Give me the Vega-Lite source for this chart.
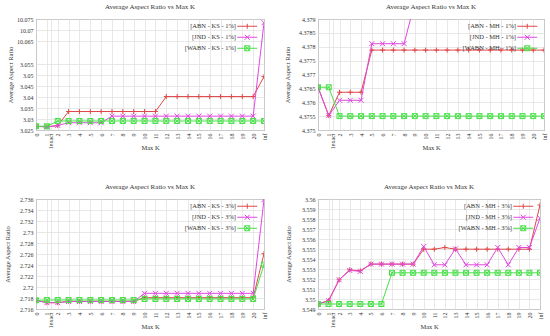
{
 "$schema": "https://vega.github.io/schema/vega-lite/v6.json",
 "padding": {"left": 3, "top": 2, "right": 0, "bottom": 0},
 "datasets": {
  "tl": [
   {"k":0,"s":"ABN","v":3.0267},{"k":1,"s":"ABN","v":3.0265},{"k":2,"s":"ABN","v":3.027},{"k":3,"s":"ABN","v":3.0334},{"k":4,"s":"ABN","v":3.0334},{"k":5,"s":"ABN","v":3.0334},{"k":6,"s":"ABN","v":3.0334},{"k":7,"s":"ABN","v":3.0334},{"k":8,"s":"ABN","v":3.0334},{"k":9,"s":"ABN","v":3.0334},{"k":10,"s":"ABN","v":3.0334},{"k":11,"s":"ABN","v":3.0334},{"k":12,"s":"ABN","v":3.0402},{"k":13,"s":"ABN","v":3.0402},{"k":14,"s":"ABN","v":3.0402},{"k":15,"s":"ABN","v":3.0402},{"k":16,"s":"ABN","v":3.0402},{"k":17,"s":"ABN","v":3.0402},{"k":18,"s":"ABN","v":3.0402},{"k":19,"s":"ABN","v":3.0402},{"k":20,"s":"ABN","v":3.0402},{"k":21,"s":"ABN","v":3.0493},
   {"k":0,"s":"JND","v":3.0267},{"k":1,"s":"JND","v":3.0263},{"k":2,"s":"JND","v":3.0271},{"k":3,"s":"JND","v":3.0283},{"k":4,"s":"JND","v":3.0283},{"k":5,"s":"JND","v":3.0283},{"k":6,"s":"JND","v":3.0283},{"k":7,"s":"JND","v":3.0313},{"k":8,"s":"JND","v":3.0313},{"k":9,"s":"JND","v":3.0313},{"k":10,"s":"JND","v":3.0313},{"k":11,"s":"JND","v":3.0313},{"k":12,"s":"JND","v":3.0313},{"k":13,"s":"JND","v":3.0313},{"k":14,"s":"JND","v":3.0313},{"k":15,"s":"JND","v":3.0313},{"k":16,"s":"JND","v":3.0313},{"k":17,"s":"JND","v":3.0313},{"k":18,"s":"JND","v":3.0313},{"k":19,"s":"JND","v":3.0313},{"k":20,"s":"JND","v":3.0313},{"k":21,"s":"JND","v":10.0733},
   {"k":0,"s":"WABN","v":3.0267},{"k":1,"s":"WABN","v":3.0267},{"k":2,"s":"WABN","v":3.0291},{"k":3,"s":"WABN","v":3.0291},{"k":4,"s":"WABN","v":3.0291},{"k":5,"s":"WABN","v":3.0291},{"k":6,"s":"WABN","v":3.0291},{"k":7,"s":"WABN","v":3.0291},{"k":8,"s":"WABN","v":3.0291},{"k":9,"s":"WABN","v":3.0291},{"k":10,"s":"WABN","v":3.0291},{"k":11,"s":"WABN","v":3.0291},{"k":12,"s":"WABN","v":3.0291},{"k":13,"s":"WABN","v":3.0291},{"k":14,"s":"WABN","v":3.0291},{"k":15,"s":"WABN","v":3.0291},{"k":16,"s":"WABN","v":3.0291},{"k":17,"s":"WABN","v":3.0291},{"k":18,"s":"WABN","v":3.0291},{"k":19,"s":"WABN","v":3.0291},{"k":20,"s":"WABN","v":3.0291},{"k":21,"s":"WABN","v":3.0291}
  ],
  "tr": [
   {"k":0,"s":"ABN","v":4.37654},{"k":1,"s":"ABN","v":4.37552},{"k":2,"s":"ABN","v":4.37636},{"k":3,"s":"ABN","v":4.37636},{"k":4,"s":"ABN","v":4.37636},{"k":5,"s":"ABN","v":4.37788},{"k":6,"s":"ABN","v":4.37788},{"k":7,"s":"ABN","v":4.37788},{"k":8,"s":"ABN","v":4.37788},{"k":9,"s":"ABN","v":4.37788},{"k":10,"s":"ABN","v":4.37788},{"k":11,"s":"ABN","v":4.37788},{"k":12,"s":"ABN","v":4.37788},{"k":13,"s":"ABN","v":4.37788},{"k":14,"s":"ABN","v":4.37788},{"k":15,"s":"ABN","v":4.37788},{"k":16,"s":"ABN","v":4.37788},{"k":17,"s":"ABN","v":4.37788},{"k":18,"s":"ABN","v":4.37788},{"k":19,"s":"ABN","v":4.37788},{"k":20,"s":"ABN","v":4.37788},{"k":21,"s":"ABN","v":4.37788},
   {"k":0,"s":"JND","v":4.37654},{"k":1,"s":"JND","v":4.37552},{"k":2,"s":"JND","v":4.37607},{"k":3,"s":"JND","v":4.37607},{"k":4,"s":"JND","v":4.37607},{"k":5,"s":"JND","v":4.37811},{"k":6,"s":"JND","v":4.37811},{"k":7,"s":"JND","v":4.37811},{"k":8,"s":"JND","v":4.37811},{"k":9,"s":"JND","v":4.3796},{"k":10,"s":"JND","v":4.3796},{"k":11,"s":"JND","v":4.3796},{"k":12,"s":"JND","v":4.3796},{"k":13,"s":"JND","v":4.3796},{"k":14,"s":"JND","v":4.3796},{"k":15,"s":"JND","v":4.3796},{"k":16,"s":"JND","v":4.3796},{"k":17,"s":"JND","v":4.3796},{"k":18,"s":"JND","v":4.3796},{"k":19,"s":"JND","v":4.3796},{"k":20,"s":"JND","v":4.3796},{"k":21,"s":"JND","v":4.3796},
   {"k":0,"s":"WABN","v":4.37654},{"k":1,"s":"WABN","v":4.37654},{"k":2,"s":"WABN","v":4.3755},{"k":3,"s":"WABN","v":4.3755},{"k":4,"s":"WABN","v":4.3755},{"k":5,"s":"WABN","v":4.3755},{"k":6,"s":"WABN","v":4.3755},{"k":7,"s":"WABN","v":4.3755},{"k":8,"s":"WABN","v":4.3755},{"k":9,"s":"WABN","v":4.3755},{"k":10,"s":"WABN","v":4.3755},{"k":11,"s":"WABN","v":4.3755},{"k":12,"s":"WABN","v":4.3755},{"k":13,"s":"WABN","v":4.3755},{"k":14,"s":"WABN","v":4.3755},{"k":15,"s":"WABN","v":4.3755},{"k":16,"s":"WABN","v":4.3755},{"k":17,"s":"WABN","v":4.3755},{"k":18,"s":"WABN","v":4.3755},{"k":19,"s":"WABN","v":4.3755},{"k":20,"s":"WABN","v":4.3755},{"k":21,"s":"WABN","v":4.3755}
  ],
  "bl": [
   {"k":0,"s":"ABN","v":2.71758},{"k":1,"s":"ABN","v":2.71715},{"k":2,"s":"ABN","v":2.71715},{"k":3,"s":"ABN","v":2.71739},{"k":4,"s":"ABN","v":2.71739},{"k":5,"s":"ABN","v":2.71739},{"k":6,"s":"ABN","v":2.71739},{"k":7,"s":"ABN","v":2.71739},{"k":8,"s":"ABN","v":2.71739},{"k":9,"s":"ABN","v":2.71739},{"k":10,"s":"ABN","v":2.71806},{"k":11,"s":"ABN","v":2.71806},{"k":12,"s":"ABN","v":2.71806},{"k":13,"s":"ABN","v":2.71806},{"k":14,"s":"ABN","v":2.71806},{"k":15,"s":"ABN","v":2.71806},{"k":16,"s":"ABN","v":2.71806},{"k":17,"s":"ABN","v":2.71806},{"k":18,"s":"ABN","v":2.71806},{"k":19,"s":"ABN","v":2.71806},{"k":20,"s":"ABN","v":2.71806},{"k":21,"s":"ABN","v":2.72606},
   {"k":0,"s":"JND","v":2.71758},{"k":1,"s":"JND","v":2.71715},{"k":2,"s":"JND","v":2.71715},{"k":3,"s":"JND","v":2.71736},{"k":4,"s":"JND","v":2.71736},{"k":5,"s":"JND","v":2.71736},{"k":6,"s":"JND","v":2.71736},{"k":7,"s":"JND","v":2.71736},{"k":8,"s":"JND","v":2.71736},{"k":9,"s":"JND","v":2.71736},{"k":10,"s":"JND","v":2.71885},{"k":11,"s":"JND","v":2.71885},{"k":12,"s":"JND","v":2.71885},{"k":13,"s":"JND","v":2.71885},{"k":14,"s":"JND","v":2.71885},{"k":15,"s":"JND","v":2.71885},{"k":16,"s":"JND","v":2.71885},{"k":17,"s":"JND","v":2.71885},{"k":18,"s":"JND","v":2.71885},{"k":19,"s":"JND","v":2.71885},{"k":20,"s":"JND","v":2.71885},{"k":21,"s":"JND","v":2.73588},
   {"k":0,"s":"WABN","v":2.71758},{"k":1,"s":"WABN","v":2.71764},{"k":2,"s":"WABN","v":2.71764},{"k":3,"s":"WABN","v":2.71764},{"k":4,"s":"WABN","v":2.71764},{"k":5,"s":"WABN","v":2.71764},{"k":6,"s":"WABN","v":2.71764},{"k":7,"s":"WABN","v":2.71764},{"k":8,"s":"WABN","v":2.71764},{"k":9,"s":"WABN","v":2.71764},{"k":10,"s":"WABN","v":2.71782},{"k":11,"s":"WABN","v":2.71782},{"k":12,"s":"WABN","v":2.71782},{"k":13,"s":"WABN","v":2.71782},{"k":14,"s":"WABN","v":2.71782},{"k":15,"s":"WABN","v":2.71782},{"k":16,"s":"WABN","v":2.71782},{"k":17,"s":"WABN","v":2.71782},{"k":18,"s":"WABN","v":2.71782},{"k":19,"s":"WABN","v":2.71782},{"k":20,"s":"WABN","v":2.71782},{"k":21,"s":"WABN","v":2.72406}
  ],
  "br": [
   {"k":0,"s":"ABN","v":3.5495},{"k":1,"s":"ABN","v":3.54983},{"k":2,"s":"ABN","v":3.55192},{"k":3,"s":"ABN","v":3.55292},{"k":4,"s":"ABN","v":3.55282},{"k":5,"s":"ABN","v":3.55349},{"k":6,"s":"ABN","v":3.55349},{"k":7,"s":"ABN","v":3.55349},{"k":8,"s":"ABN","v":3.55349},{"k":9,"s":"ABN","v":3.55349},{"k":10,"s":"ABN","v":3.55498},{"k":11,"s":"ABN","v":3.55498},{"k":12,"s":"ABN","v":3.55515},{"k":13,"s":"ABN","v":3.55498},{"k":14,"s":"ABN","v":3.55498},{"k":15,"s":"ABN","v":3.55498},{"k":16,"s":"ABN","v":3.55498},{"k":17,"s":"ABN","v":3.55498},{"k":18,"s":"ABN","v":3.55498},{"k":19,"s":"ABN","v":3.55498},{"k":20,"s":"ABN","v":3.55498},{"k":21,"s":"ABN","v":3.5594},
   {"k":0,"s":"JND","v":3.5495},{"k":1,"s":"JND","v":3.54983},{"k":2,"s":"JND","v":3.55192},{"k":3,"s":"JND","v":3.55286},{"k":4,"s":"JND","v":3.55276},{"k":5,"s":"JND","v":3.55349},{"k":6,"s":"JND","v":3.55349},{"k":7,"s":"JND","v":3.55349},{"k":8,"s":"JND","v":3.55349},{"k":9,"s":"JND","v":3.55349},{"k":10,"s":"JND","v":3.55525},{"k":11,"s":"JND","v":3.55342},{"k":12,"s":"JND","v":3.55342},{"k":13,"s":"JND","v":3.55502},{"k":14,"s":"JND","v":3.55342},{"k":15,"s":"JND","v":3.55342},{"k":16,"s":"JND","v":3.55342},{"k":17,"s":"JND","v":3.55515},{"k":18,"s":"JND","v":3.55342},{"k":19,"s":"JND","v":3.55515},{"k":20,"s":"JND","v":3.55515},{"k":21,"s":"JND","v":3.55807},
   {"k":0,"s":"WABN","v":3.5495},{"k":1,"s":"WABN","v":3.5495},{"k":2,"s":"WABN","v":3.5495},{"k":3,"s":"WABN","v":3.5495},{"k":4,"s":"WABN","v":3.5495},{"k":5,"s":"WABN","v":3.5495},{"k":6,"s":"WABN","v":3.5495},{"k":7,"s":"WABN","v":3.55262},{"k":8,"s":"WABN","v":3.55262},{"k":9,"s":"WABN","v":3.55262},{"k":10,"s":"WABN","v":3.55262},{"k":11,"s":"WABN","v":3.55262},{"k":12,"s":"WABN","v":3.55262},{"k":13,"s":"WABN","v":3.55262},{"k":14,"s":"WABN","v":3.55262},{"k":15,"s":"WABN","v":3.55262},{"k":16,"s":"WABN","v":3.55262},{"k":17,"s":"WABN","v":3.55262},{"k":18,"s":"WABN","v":3.55262},{"k":19,"s":"WABN","v":3.55262},{"k":20,"s":"WABN","v":3.55262},{"k":21,"s":"WABN","v":3.55262}
  ]
 },
 "columns": 2,
 "bounds": "flush",
 "spacing": {"row": 69, "column": 54},
 "resolve": {"scale": {"x": "independent", "y": "independent", "color": "independent", "shape": "independent"}, "legend": {"color": "independent", "shape": "independent"}},
 "concat": [
  {
   "width": 228, "height": 111,
   "title": "Average Aspect Ratio vs Max K",
   "data": {"name": "tl"},
   "encoding": {
    "x": {"field": "k", "type": "quantitative", "scale": {"domain": [0, 21], "nice": false, "zero": false},
      "axis": {"title": "Max K", "values": [0,1,1.35,2,3,4,5,6,7,8,9,10,11,12,13,14,15,16,17,18,19,20,21], "format": ".0f", "labelExpr": "datum.value == 21 ? 'inf' : (datum.value > 1.1 && datum.value < 1.9) ? '1exact' : datum.label", "labelAngle": -90, "labelOverlap": false, "titleY": 17, "titleBaseline": "middle"}},
    "y": {"field": "v", "type": "quantitative", "scale": {"domain": [3.025, 3.058, 10.0615, 10.075], "range": [111, 38.4, 29.7, 0], "nice": false, "zero": false},
      "axis": {"title": "Average Aspect Ratio", "values": [3.025,3.03,3.035,3.04,3.045,3.05,3.055,10.065,10.07,10.075], "format": ".6~g", "labelOverlap": false, "minExtent": 20, "maxExtent": 20, "titlePadding": 3}}
   },
   "layer": [
    {"transform": [{"filter": {"field": "s", "equal": "ABN"}}], "mark": {"type": "line", "color": "#e04848", "strokeWidth": 1, "clip": true}},
    {"transform": [{"filter": {"field": "s", "equal": "ABN"}}], "mark": {"type": "point", "shape": "M-1,0L1,0M0,-1L0,1", "filled": false, "size": 25, "strokeWidth": 1, "color": "#e04848", "opacity": 1, "clip": true}},
    {"transform": [{"filter": {"field": "s", "equal": "JND"}}], "mark": {"type": "line", "color": "#e048e0", "strokeWidth": 1, "clip": true}},
    {"transform": [{"filter": {"field": "s", "equal": "JND"}}], "mark": {"type": "point", "shape": "M-1,-1L1,1M-1,1L1,-1", "filled": false, "size": 25, "strokeWidth": 1, "color": "#e048e0", "opacity": 1, "clip": true}},
    {"transform": [{"filter": {"field": "s", "equal": "WABN"}}], "mark": {"type": "line", "color": "#48e048", "strokeWidth": 1, "clip": true}},
    {"transform": [{"filter": {"field": "s", "equal": "WABN"}}], "mark": {"type": "point", "shape": "M-1,-1L1,-1L1,1L-1,1ZM-1,-1L1,1M-1,1L1,-1", "filled": false, "size": 25, "strokeWidth": 1, "color": "#48e048", "opacity": 1, "clip": true}},
    {"transform": [{"filter": "datum.k < 0"}], "mark": {"type": "point", "filled": false, "size": 25, "strokeWidth": 1},
     "encoding": {
      "color": {"field": "s", "type": "nominal", "scale": {"domain": ["ABN","JND","WABN"], "range": ["#e04848","#e048e0","#48e048"]}, "legend": {"title": null, "labelExpr": "'[' + datum.label + ' - KS - 1%]'"}},
      "shape": {"field": "s", "type": "nominal", "scale": {"domain": ["ABN","JND","WABN"], "range": ["M-4,0L4,0M0,-1L0,1", "M-4,0L4,0M-1,-1L1,1M-1,1L1,-1", "M-4,0L4,0M-1,-1L1,-1L1,1L-1,1ZM-1,-1L1,1M-1,1L1,-1"]}, "legend": {"title": null, "labelExpr": "'[' + datum.label + ' - KS - 1%]'"}}
     }}
   ]
  },
  {
   "width": 226, "height": 111,
   "title": "Average Aspect Ratio vs Max K",
   "data": {"name": "tr"},
   "encoding": {
    "x": {"field": "k", "type": "quantitative", "scale": {"domain": [0, 21], "nice": false, "zero": false},
      "axis": {"title": "Max K", "values": [0,1,1.35,2,3,4,5,6,7,8,9,10,11,12,13,14,15,16,17,18,19,20,21], "format": ".0f", "labelExpr": "datum.value == 21 ? 'inf' : (datum.value > 1.1 && datum.value < 1.9) ? '1exact' : datum.label", "labelAngle": -90, "labelOverlap": false, "titleY": 17, "titleBaseline": "middle"}},
    "y": {"field": "v", "type": "quantitative", "scale": {"domain": [4.375, 4.379], "nice": false, "zero": false},
      "axis": {"title": "Average Aspect Ratio", "values": [4.375,4.3755,4.376,4.3765,4.377,4.3775,4.378,4.3785,4.379], "format": ".6~g", "labelOverlap": false, "minExtent": 25, "maxExtent": 25, "titlePadding": 3}}
   },
   "layer": [
    {"transform": [{"filter": {"field": "s", "equal": "ABN"}}], "mark": {"type": "line", "color": "#e04848", "strokeWidth": 1, "clip": true}},
    {"transform": [{"filter": {"field": "s", "equal": "ABN"}}], "mark": {"type": "point", "shape": "M-1,0L1,0M0,-1L0,1", "filled": false, "size": 25, "strokeWidth": 1, "color": "#e04848", "opacity": 1, "clip": true}},
    {"transform": [{"filter": {"field": "s", "equal": "JND"}}], "mark": {"type": "line", "color": "#e048e0", "strokeWidth": 1, "clip": true}},
    {"transform": [{"filter": {"field": "s", "equal": "JND"}}], "mark": {"type": "point", "shape": "M-1,-1L1,1M-1,1L1,-1", "filled": false, "size": 25, "strokeWidth": 1, "color": "#e048e0", "opacity": 1, "clip": true}},
    {"transform": [{"filter": {"field": "s", "equal": "WABN"}}], "mark": {"type": "line", "color": "#48e048", "strokeWidth": 1, "clip": true}},
    {"transform": [{"filter": {"field": "s", "equal": "WABN"}}], "mark": {"type": "point", "shape": "M-1,-1L1,-1L1,1L-1,1ZM-1,-1L1,1M-1,1L1,-1", "filled": false, "size": 25, "strokeWidth": 1, "color": "#48e048", "opacity": 1, "clip": true}},
    {"transform": [{"filter": "datum.k < 0"}], "mark": {"type": "point", "filled": false, "size": 25, "strokeWidth": 1},
     "encoding": {
      "color": {"field": "s", "type": "nominal", "scale": {"domain": ["ABN","JND","WABN"], "range": ["#e04848","#e048e0","#48e048"]}, "legend": {"title": null, "labelExpr": "'[' + datum.label + ' - MH - 1%]'"}},
      "shape": {"field": "s", "type": "nominal", "scale": {"domain": ["ABN","JND","WABN"], "range": ["M-4,0L4,0M0,-1L0,1", "M-4,0L4,0M-1,-1L1,1M-1,1L1,-1", "M-4,0L4,0M-1,-1L1,-1L1,1L-1,1ZM-1,-1L1,1M-1,1L1,-1"]}, "legend": {"title": null, "labelExpr": "'[' + datum.label + ' - MH - 1%]'"}}
     }}
   ]
  },
  {
   "width": 228, "height": 110,
   "title": "Average Aspect Ratio vs Max K",
   "data": {"name": "bl"},
   "encoding": {
    "x": {"field": "k", "type": "quantitative", "scale": {"domain": [0, 21], "nice": false, "zero": false},
      "axis": {"title": "Max K", "values": [0,1,1.35,2,3,4,5,6,7,8,9,10,11,12,13,14,15,16,17,18,19,20,21], "format": ".0f", "labelExpr": "datum.value == 21 ? 'inf' : (datum.value > 1.1 && datum.value < 1.9) ? '1exact' : datum.label", "labelAngle": -90, "labelOverlap": false, "titleY": 17, "titleBaseline": "middle"}},
    "y": {"field": "v", "type": "quantitative", "scale": {"domain": [2.716, 2.736], "nice": false, "zero": false},
      "axis": {"title": "Average Aspect Ratio", "values": [2.716,2.718,2.72,2.722,2.724,2.726,2.728,2.73,2.732,2.734,2.736], "format": ".6~g", "labelOverlap": false, "minExtent": 23, "maxExtent": 23, "titlePadding": 3}}
   },
   "layer": [
    {"transform": [{"filter": {"field": "s", "equal": "ABN"}}], "mark": {"type": "line", "color": "#e04848", "strokeWidth": 1, "clip": true}},
    {"transform": [{"filter": {"field": "s", "equal": "ABN"}}], "mark": {"type": "point", "shape": "M-1,0L1,0M0,-1L0,1", "filled": false, "size": 25, "strokeWidth": 1, "color": "#e04848", "opacity": 1, "clip": true}},
    {"transform": [{"filter": {"field": "s", "equal": "JND"}}], "mark": {"type": "line", "color": "#e048e0", "strokeWidth": 1, "clip": true}},
    {"transform": [{"filter": {"field": "s", "equal": "JND"}}], "mark": {"type": "point", "shape": "M-1,-1L1,1M-1,1L1,-1", "filled": false, "size": 25, "strokeWidth": 1, "color": "#e048e0", "opacity": 1, "clip": true}},
    {"transform": [{"filter": {"field": "s", "equal": "WABN"}}], "mark": {"type": "line", "color": "#48e048", "strokeWidth": 1, "clip": true}},
    {"transform": [{"filter": {"field": "s", "equal": "WABN"}}], "mark": {"type": "point", "shape": "M-1,-1L1,-1L1,1L-1,1ZM-1,-1L1,1M-1,1L1,-1", "filled": false, "size": 25, "strokeWidth": 1, "color": "#48e048", "opacity": 1, "clip": true}},
    {"transform": [{"filter": "datum.k < 0"}], "mark": {"type": "point", "filled": false, "size": 25, "strokeWidth": 1},
     "encoding": {
      "color": {"field": "s", "type": "nominal", "scale": {"domain": ["ABN","JND","WABN"], "range": ["#e04848","#e048e0","#48e048"]}, "legend": {"title": null, "labelExpr": "'[' + datum.label + ' - KS - 3%]'"}},
      "shape": {"field": "s", "type": "nominal", "scale": {"domain": ["ABN","JND","WABN"], "range": ["M-4,0L4,0M0,-1L0,1", "M-4,0L4,0M-1,-1L1,1M-1,1L1,-1", "M-4,0L4,0M-1,-1L1,-1L1,1L-1,1ZM-1,-1L1,1M-1,1L1,-1"]}, "legend": {"title": null, "labelExpr": "'[' + datum.label + ' - KS - 3%]'"}}
     }}
   ]
  },
  {
   "width": 222, "height": 110,
   "title": "Average Aspect Ratio vs Max K",
   "data": {"name": "br"},
   "encoding": {
    "x": {"field": "k", "type": "quantitative", "scale": {"domain": [0, 21], "nice": false, "zero": false},
      "axis": {"title": "Max K", "values": [0,1,1.35,2,3,4,5,6,7,8,9,10,11,12,13,14,15,16,17,18,19,20,21], "format": ".0f", "labelExpr": "datum.value == 21 ? 'inf' : (datum.value > 1.1 && datum.value < 1.9) ? '1exact' : datum.label", "labelAngle": -90, "labelOverlap": false, "titleY": 17, "titleBaseline": "middle"}},
    "y": {"field": "v", "type": "quantitative", "scale": {"domain": [3.549, 3.56], "nice": false, "zero": false},
      "axis": {"title": "Average Aspect Ratio", "values": [3.549,3.55,3.551,3.552,3.553,3.554,3.555,3.556,3.557,3.558,3.559,3.56], "format": ".6~g", "labelOverlap": false, "minExtent": 24, "maxExtent": 24, "titlePadding": 3}}
   },
   "layer": [
    {"transform": [{"filter": {"field": "s", "equal": "ABN"}}], "mark": {"type": "line", "color": "#e04848", "strokeWidth": 1, "clip": true}},
    {"transform": [{"filter": {"field": "s", "equal": "ABN"}}], "mark": {"type": "point", "shape": "M-1,0L1,0M0,-1L0,1", "filled": false, "size": 25, "strokeWidth": 1, "color": "#e04848", "opacity": 1, "clip": true}},
    {"transform": [{"filter": {"field": "s", "equal": "JND"}}], "mark": {"type": "line", "color": "#e048e0", "strokeWidth": 1, "clip": true}},
    {"transform": [{"filter": {"field": "s", "equal": "JND"}}], "mark": {"type": "point", "shape": "M-1,-1L1,1M-1,1L1,-1", "filled": false, "size": 25, "strokeWidth": 1, "color": "#e048e0", "opacity": 1, "clip": true}},
    {"transform": [{"filter": {"field": "s", "equal": "WABN"}}], "mark": {"type": "line", "color": "#48e048", "strokeWidth": 1, "clip": true}},
    {"transform": [{"filter": {"field": "s", "equal": "WABN"}}], "mark": {"type": "point", "shape": "M-1,-1L1,-1L1,1L-1,1ZM-1,-1L1,1M-1,1L1,-1", "filled": false, "size": 25, "strokeWidth": 1, "color": "#48e048", "opacity": 1, "clip": true}},
    {"transform": [{"filter": "datum.k < 0"}], "mark": {"type": "point", "filled": false, "size": 25, "strokeWidth": 1},
     "encoding": {
      "color": {"field": "s", "type": "nominal", "scale": {"domain": ["ABN","JND","WABN"], "range": ["#e04848","#e048e0","#48e048"]}, "legend": {"title": null, "labelExpr": "'[' + datum.label + ' - MH - 3%]'"}},
      "shape": {"field": "s", "type": "nominal", "scale": {"domain": ["ABN","JND","WABN"], "range": ["M-4,0L4,0M0,-1L0,1", "M-4,0L4,0M-1,-1L1,1M-1,1L1,-1", "M-4,0L4,0M-1,-1L1,-1L1,1L-1,1ZM-1,-1L1,1M-1,1L1,-1"]}, "legend": {"title": null, "labelExpr": "'[' + datum.label + ' - MH - 3%]'"}}
     }}
   ]
  }
 ],
 "config": {
  "font": "Liberation Serif",
  "view": {"stroke": "#666666", "strokeWidth": 1},
  "axis": {"labelFont": "Liberation Serif", "labelFontSize": 6, "titleFont": "Liberation Serif", "titleFontSize": 6.5, "titleFontWeight": "normal", "labelColor": "#333333", "titleColor": "#333333", "gridColor": "#e2e2e2", "gridWidth": 0.8, "domain": false, "ticks": false, "labelPadding": 3},
  "title": {"font": "Liberation Serif", "fontSize": 7, "fontWeight": "normal", "color": "#333333", "offset": 6},
  "legend": {"orient": "top-right", "labelFont": "Liberation Serif", "labelFontSize": 6.5, "labelColor": "#333333", "symbolSize": 25, "symbolStrokeWidth": 1, "symbolOpacity": 1, "labelAlign": "right", "labelOffset": -14.5, "rowPadding": 1, "padding": 0, "offset": 4}
 }
}
